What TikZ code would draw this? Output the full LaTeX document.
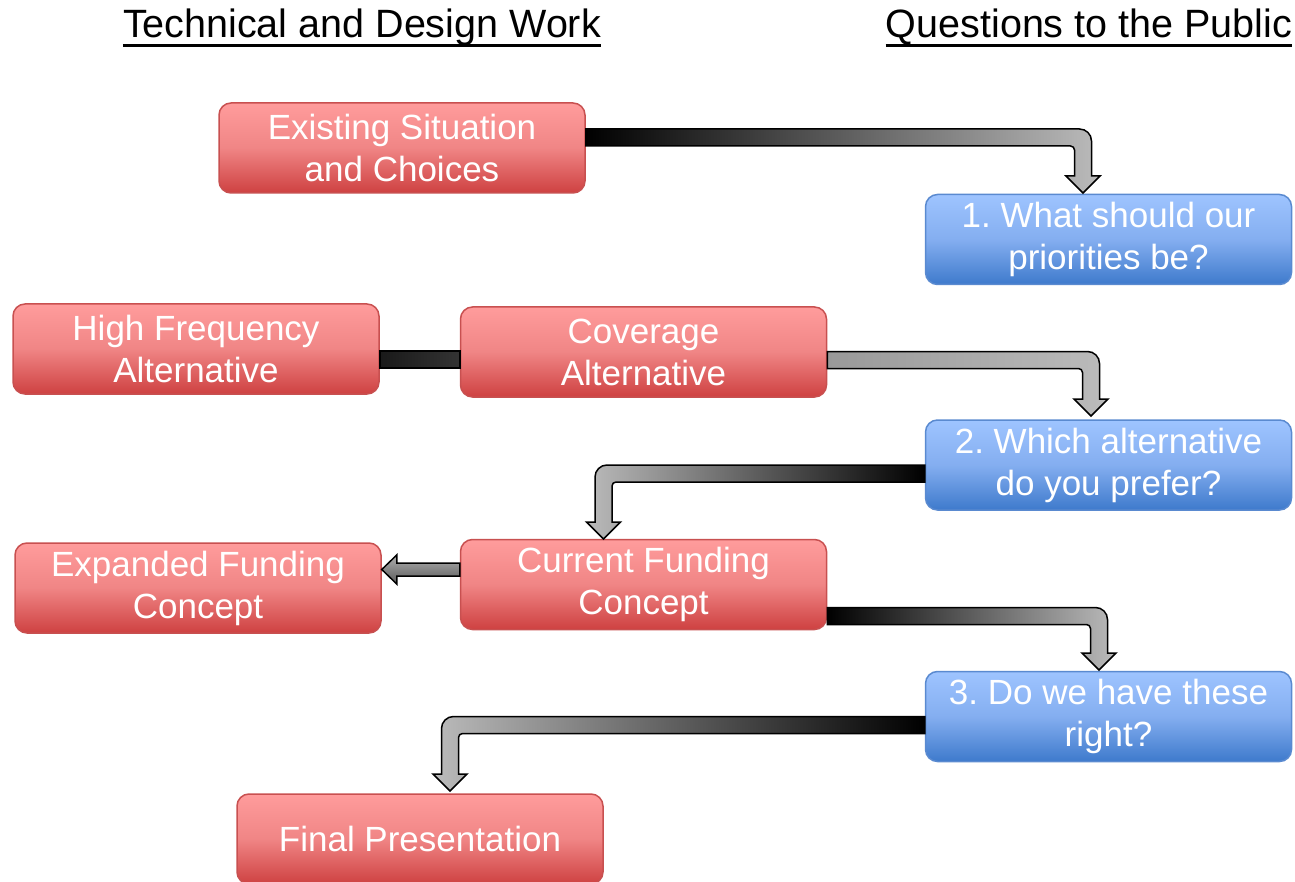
\documentclass[tikz,border=0pt]{standalone}
\usepackage{fontspec}
\setmainfont{Liberation Sans}
\usetikzlibrary{calc}
\frenchspacing
\definecolor{rT}{HTML}{FF9C9C}
\definecolor{rM}{HTML}{F08585}
\definecolor{rB}{HTML}{CE4141}
\definecolor{rD}{HTML}{C85050}
\definecolor{bT}{HTML}{9EC4FF}
\definecolor{bM}{HTML}{84AEF0}
\definecolor{bB}{HTML}{3E7ACC}
\definecolor{bD}{HTML}{5A8AD0}
\definecolor{gL}{HTML}{BBBBBB}
\definecolor{gM}{HTML}{999999}
\definecolor{gS}{HTML}{AFAFAF}
\definecolor{gK}{HTML}{5A5A5A}
\pgfdeclareverticalshading{redgrad}{100bp}{color(0bp)=(rB); color(25bp)=(rB); color(50bp)=(rM); color(75bp)=(rT); color(100bp)=(rT)}
\pgfdeclareverticalshading{bluegrad}{100bp}{color(0bp)=(bB); color(25bp)=(bB); color(50bp)=(bM); color(75bp)=(bT); color(100bp)=(bT)}
\def\aw{8.5pt}
\def\ah{17pt}
\def\al{17pt}
\def\aR{12pt}
\def\ar{4pt}
% right then down
\newcommand\rdarrow[3]{%
 \shade[bigarrow,#3] let \p1=#1, \p2=#2 in
 (\x1,\y1+\aw) -- (\x2+\aw-\aR,\y1+\aw) arc[start angle=90,end angle=0,radius=\aR]
 -- (\x2+\aw,\y2+\al) -- (\x2+\ah,\y2+\al) -- (\x2,\y2) -- (\x2-\ah,\y2+\al)
 -- (\x2-\aw,\y2+\al) -- (\x2-\aw,\y1-\aw-\ar) arc[start angle=0,end angle=90,radius=\ar]
 -- (\x1,\y1-\aw) -- cycle;}
% left then down
\newcommand\ldarrow[3]{%
 \shade[bigarrow,#3] let \p1=#1, \p2=#2 in
 (\x1,\y1+\aw) -- (\x2-\aw+\aR,\y1+\aw) arc[start angle=90,end angle=180,radius=\aR]
 -- (\x2-\aw,\y2+\al) -- (\x2-\ah,\y2+\al) -- (\x2,\y2) -- (\x2+\ah,\y2+\al)
 -- (\x2+\aw,\y2+\al) -- (\x2+\aw,\y1-\aw-\ar) arc[start angle=180,end angle=90,radius=\ar]
 -- (\x1,\y1-\aw) -- cycle;}
\begin{document}
\begin{tikzpicture}[x=1pt,y=-1pt,
  boxbase/.style={rounded corners=12pt, line width=1.5pt, shade, text=white,
    minimum width=366pt, minimum height=90pt, inner sep=0pt, align=center,
    font=\fontsize{35}{42}\selectfont, execute at begin node={\vspace*{4pt}}},
  redbox/.style={boxbase, draw=rD, shading=redgrad},
  bluebox/.style={boxbase, draw=bD, shading=bluegrad},
  bigarrow/.style={draw=black, line width=1.5pt},
  titletext/.style={inner sep=0pt, anchor=base, font=\fontsize{39.5}{45}\selectfont}]
\useasboundingbox (0,0) rectangle (1295,882);

% titles
\node[titletext] (tl) at (362,38) {Technical and Design Work};
\node[titletext] (tr) at (1089,38) {Questions to the Public};
\draw[line width=2.6pt] ([yshift=-7.5pt]tl.base west) -- ([yshift=-7.5pt]tl.base east);
\draw[line width=2.6pt] ([yshift=-7.5pt]tr.base west) -- ([yshift=-7.5pt]tr.base east);

% anchor coordinates for connectors
\coordinate (s1) at (0,137.5);
\coordinate (t1) at (1083,193);
\coordinate (s2) at (0,360);
\coordinate (t2) at (1091,416);
\coordinate (s3) at (0,473.5);
\coordinate (t3) at (603.5,539);
\coordinate (s4) at (0,616);
\coordinate (t4) at (1099,670);
\coordinate (s5) at (0,725);
\coordinate (t5) at (450,791);
\coordinate (s6) at (0,569.5);
\coordinate (s7a) at (0,351);
\coordinate (s7b) at (0,368);

% boxes
\node[redbox] (exist) at (402,148) {Existing Situation\\and Choices};
\node[bluebox] (q1) at (1108.5,239.5) {1. What should our\\priorities be?};
\node[redbox] (hf) at (196,349) {High Frequency\\Alternative};
\node[redbox] (cov) at (643.5,352) {Coverage\\Alternative};
\node[bluebox] (q2) at (1108.5,465) {2. Which alternative\\do you prefer?};
\node[redbox] (exp) at (198,588) {Expanded Funding\\Concept};
\node[redbox] (cur) at (643.5,584.5) {Current Funding\\Concept};
\node[bluebox] (q3) at (1108.5,716.5) {3. Do we have these\\right?};
\node[redbox] (fin) at (420,839) {Final Presentation};

% connectors
\rdarrow{(exist.east |- s1)}{(t1)}{left color=black, right color=gL}
\rdarrow{(cov.east |- s2)}{(t2)}{left color=gM, right color=gL}
\ldarrow{(q2.west |- s3)}{(t3)}{right color=black, left color=gL}
\rdarrow{(cur.east |- s4)}{(t4)}{left color=black, right color=gL}
\ldarrow{(q3.west |- s5)}{(t5)}{right color=black, left color=gL}

\shade[bigarrow, left color=black!90, right color=black!80] (hf.east |- s7a) rectangle (cov.west |- s7b);

\shade[bigarrow, top color=gS, bottom color=gK] let \p1=(cur.west |- s6), \p2=(exp.east |- s6) in
 (\x1,\y1+6.5pt) -- (\x2+15pt,\y1+6.5pt) -- (\x2+15pt,\y1+14.5pt) -- (\x2,\y1)
 -- (\x2+15pt,\y1-14.5pt) -- (\x2+15pt,\y1-6.5pt) -- (\x1,\y1-6.5pt) -- cycle;
\end{tikzpicture}
\end{document}
